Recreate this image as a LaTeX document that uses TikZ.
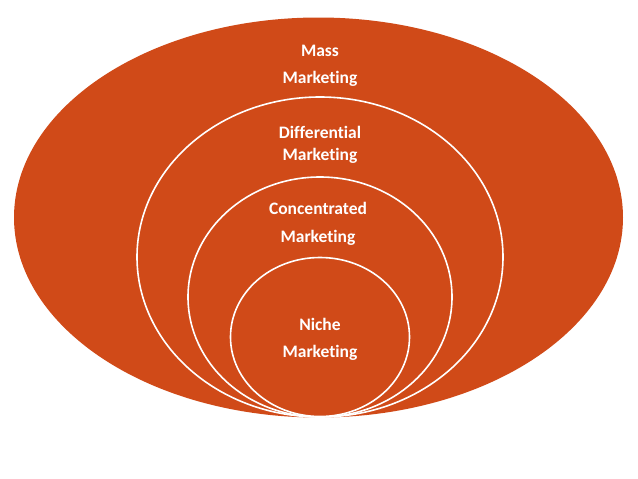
\documentclass[tikz,border=0pt]{standalone}
\usepackage{fontspec}
\setmainfont[Ligatures=NoCommon]{Carlito}
\usetikzlibrary{shapes.geometric}
\definecolor{rust}{RGB}{208,74,24}

\begin{document}
\begin{tikzpicture}[x=1pt, y=-1pt,
  ring/.style={ellipse, fill=rust, draw=white, line width=1.6pt, inner sep=0pt},
  lbl/.style={text=white, align=center, font=\bfseries\fontsize{17.5}{27}\selectfont}
]
\useasboundingbox (0,0) rectangle (638,479);

% Outer segment
\node[ring, draw=none, minimum width=609pt, minimum height=400pt] (mass) at (318.5,217.5) {};

% Nested segments, all touching at the bottom
\node[ring, minimum width=366pt, minimum height=320pt] (diff) at (320,257) {};
\node[ring, minimum width=264pt, minimum height=240pt] (conc) at (320,297) {};
\node[ring, minimum width=179pt, minimum height=159pt] (niche) at (320,337) {};

% Labels
\node[lbl] (masslbl) at (320,66) {Mass\\Marketing};
\node[lbl, font=\bfseries\fontsize{17.5}{22}\selectfont] (difflbl) at (320,145) {Differential\\Marketing};
\node[lbl, font=\bfseries\fontsize{17.5}{28}\selectfont] (conclbl) at (318,224) {Concentrated\\Marketing};
\node[lbl] (nichelbl) at (320,339) {Niche\\Marketing};

\end{tikzpicture}
\end{document}
